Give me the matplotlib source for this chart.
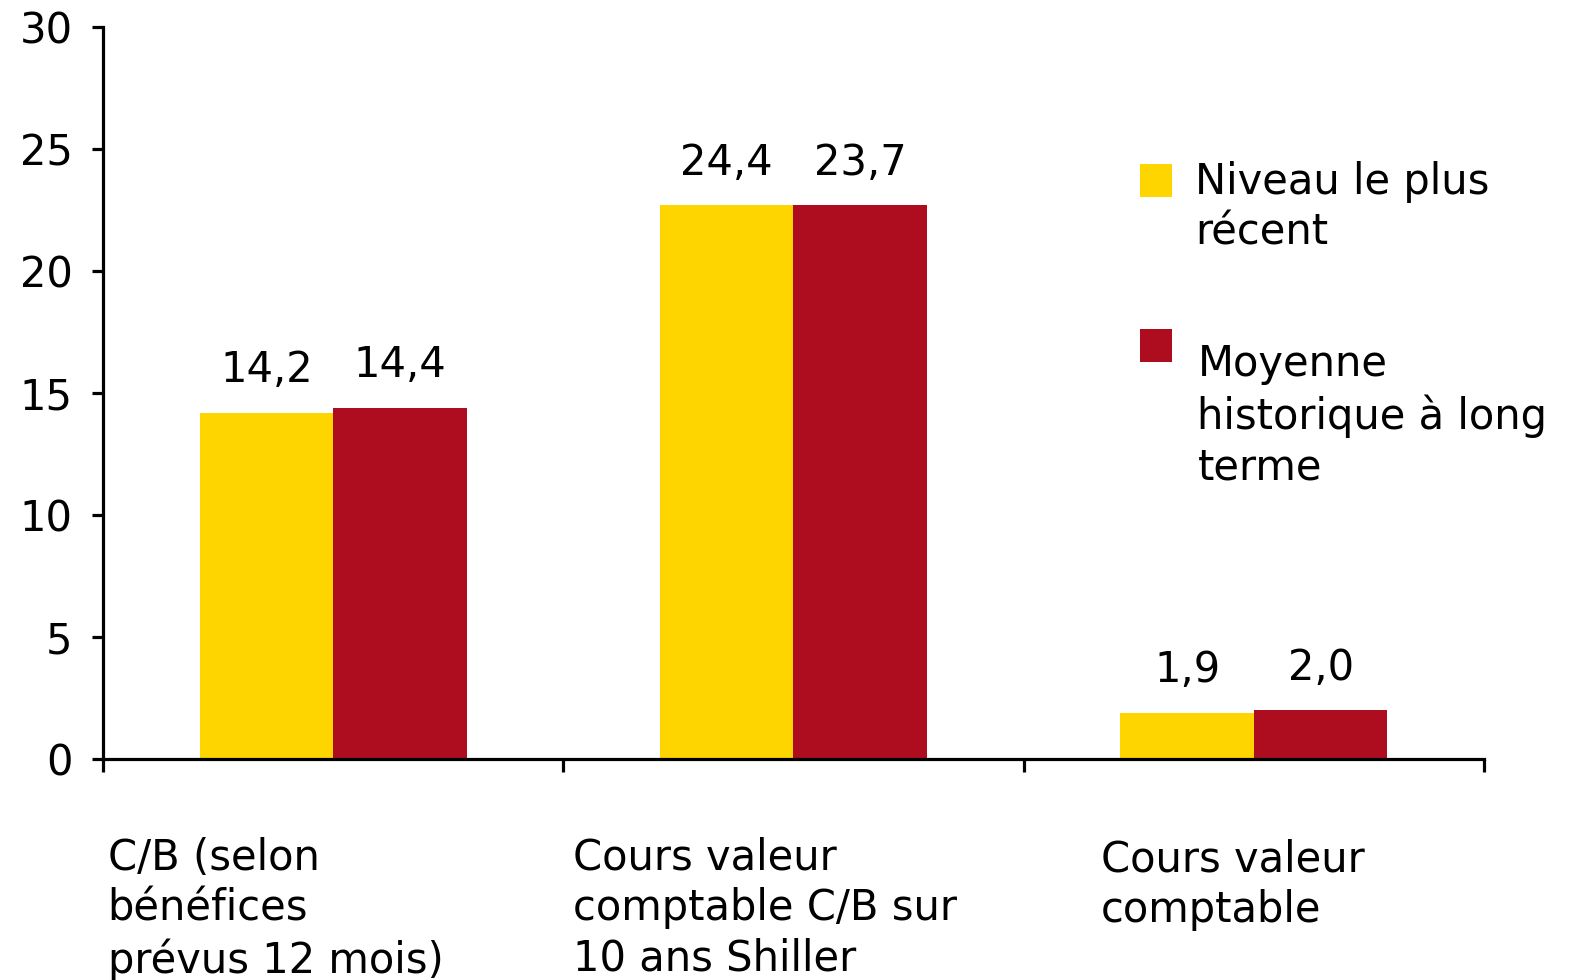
import matplotlib
matplotlib.use("Agg")
import numpy as np
import matplotlib.pyplot as plt
from matplotlib.patches import Rectangle

# ------------------------------------------------------------------ data
categories = [
    "C/B (selon\nbénéfices\nprévus 12 mois)",
    "Cours valeur\ncomptable C/B sur\n10 ans Shiller",
    "Cours valeur\ncomptable",
]
recent = [14.2, 22.7, 1.9]          # bar heights as drawn
historic = [14.4, 22.7, 2.0]
recent_labels = ["14,2", "24,4", "1,9"]   # printed data labels
historic_labels = ["14,4", "23,7", "2,0"]
series_names = ["Niveau le plus\nrécent", "Moyenne\nhistorique à long\nterme"]

YELLOW = "#FFD500"
RED = "#AE0C1F"
INK = "#000000"
FS = 30
LS = 1.26

plt.rcParams["font.family"] = ["DejaVu Sans"]

fig = plt.figure(figsize=(15.69, 9.8), dpi=100)
ax = fig.add_axes([103 / 1569, 1 - 759 / 980, 1381 / 1569, 732 / 980])

x = np.arange(len(categories))
w = 0.29
b1 = ax.bar(x - w / 2, recent, w, color=YELLOW, lw=0, zorder=2)
b2 = ax.bar(x + w / 2, historic, w, color=RED, lw=0, zorder=2)

for bars, labels in [(b1, recent_labels), (b2, historic_labels)]:
    for rect, lab in zip(bars, labels):
        ax.annotate(lab, xy=(rect.get_x() + rect.get_width() / 2, rect.get_height()),
                    xytext=(0, 22), textcoords="offset points",
                    ha="center", va="baseline", fontsize=FS, color=INK)

ax.set_xlim(-0.5, 2.5)
ax.set_ylim(0, 30)
ax.set_yticks(np.arange(0, 31, 5))
ax.set_xticks([-0.5, 0.5, 1.5, 2.5])
ax.set_xticklabels([])
for s in ("top", "right"):
    ax.spines[s].set_visible(False)
for s in ("left", "bottom"):
    ax.spines[s].set_linewidth(2.3)
    ax.spines[s].set_zorder(3)
ax.tick_params(axis="y", direction="out", length=8, width=2.3, pad=14, labelsize=FS)
ax.tick_params(axis="x", direction="out", length=9, width=2.3)

# category labels, left-aligned under each group
label_x = [-0.49, 0.52, 1.667]
label_y = [-0.106, -0.106, -0.109]
for lx, ly, cat in zip(label_x, label_y, categories):
    ax.text(lx, ly, cat, transform=ax.get_xaxis_transform(), ha="left", va="top",
            fontsize=FS, color=INK, linespacing=LS)

# legend drawn by hand to keep the original spacing
legend_items = [
    (YELLOW, 0.768, 0.817, 0.791),
    (RED, 0.542, 0.568, 0.7925),
]
for (col, py, ty, tx), name in zip(legend_items, series_names):
    ax.add_patch(Rectangle((0.751, py), 0.0232, 0.045, transform=ax.transAxes,
                           color=col, lw=0, clip_on=False))
    ax.text(tx, ty, name, transform=ax.transAxes, ha="left", va="top",
            fontsize=FS, color=INK, linespacing=LS, clip_on=False)

fig.savefig("out.png", dpi=100)
